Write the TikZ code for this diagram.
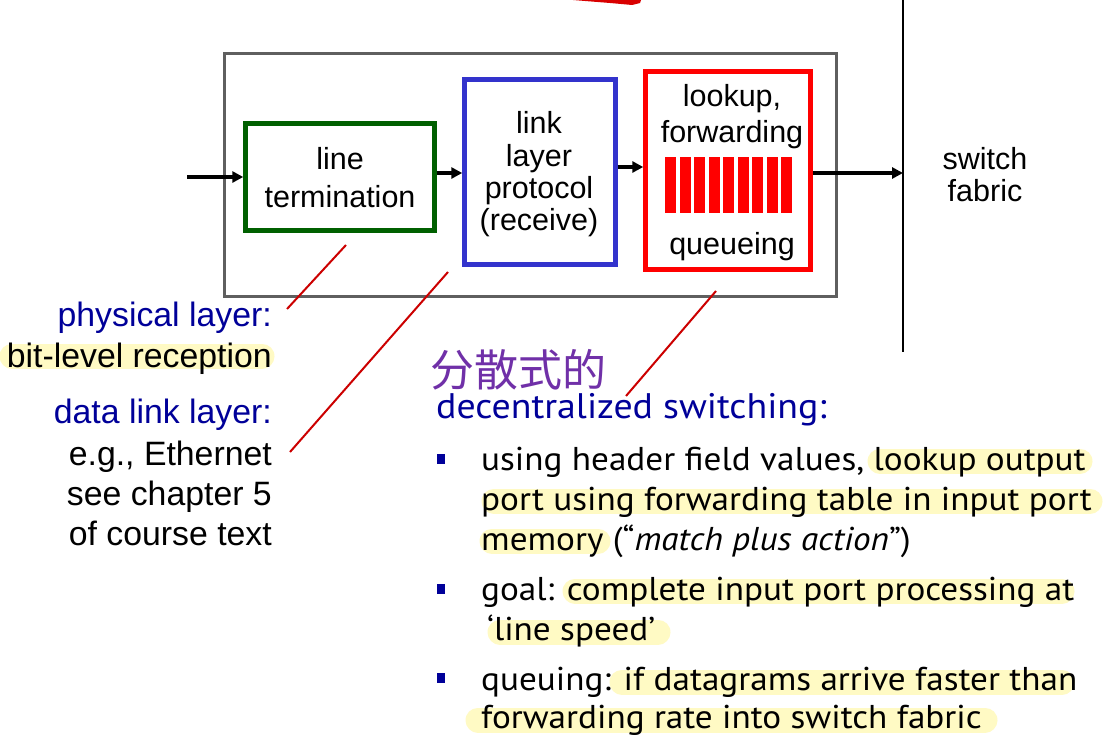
\documentclass[tikz,border=0pt]{standalone}
\usepackage{fontspec}
\setmainfont{Liberation Sans}
\newfontfamily\gill[FakeStretch=1.066]{PT Sans}
\newfontfamily\cjk{Noto Sans CJK SC}
\usetikzlibrary{arrows.meta}
\definecolor{boxgray}{HTML}{5F5F5F}
\definecolor{boxgreen}{HTML}{006000}
\definecolor{boxblue}{HTML}{3333CC}
\definecolor{boxred}{HTML}{FF0000}
\definecolor{navy}{HTML}{000099}
\definecolor{callred}{HTML}{CC0000}
\definecolor{hl}{HTML}{FFFAC4}
\definecolor{pen}{HTML}{7030A8}
\tikzset{
  frame/.style={draw, line width=#1, inner sep=0},
  lbl/.style={anchor=base, inner sep=0, font=\fontsize{30.5}{34}\selectfont},
  side/.style={anchor=base east, inner sep=0, font=\fontsize{33.8}{38}\selectfont},
  bul/.style={anchor=base west, inner sep=0, font=\gill\fontsize{33}{38}\selectfont},
  arr/.style={line width=3.4pt, -{Triangle[length=11pt,width=11pt]}},
  call/.style={callred, line width=2pt},
  hilite/.style={hl, line width=25pt, line cap=round},
  sq/.style={fill=navy, minimum width=8pt, minimum height=10pt, inner sep=0}
}
\begin{document}
\begin{tikzpicture}[x=1pt,y=-1pt]
\useasboundingbox[fill=white] (0,0) rectangle (1115,752);
% highlights
\draw[hilite] (12,356) -- (262,356);
\draw[hilite] (880,461) -- (1080,461);
\draw[hilite] (494,501) -- (1090,501);
\draw[hilite] (492,541) -- (598,541);
\draw[hilite] (575,591) -- (1062,591);
\draw[hilite] (500,632) -- (658,632);
\draw[hilite] (622,682) -- (1062,682);
\draw[hilite] (478,720) -- (985,720);
% red scribble at top
\fill[red!85!black] (573,0) -- (641,0) -- (640,3) -- (632,5) -- (610,3) -- (585,1) -- cycle;
% boxes
\node[frame=3pt, draw=boxgray, minimum width=612pt, minimum height=243pt] (outer) at (530.5,175) {};
\node[frame=4.5pt, draw=boxgreen, minimum width=189pt, minimum height=107pt] (green) at (340,177) {};
\node[frame=4.5pt, draw=boxblue, minimum width=151pt, minimum height=185pt] (blue) at (540,172) {};
\node[frame=4.5pt, draw=boxred, minimum width=165pt, minimum height=198pt] (redb) at (728,170.5) {};
% queue bars
\foreach \i in {0,...,8} {
  \fill[boxred] (665+\i*14.5,157) rectangle ++(11,56);
}
% box labels
\node[lbl] (t1) at (340,169) {line};
\node[lbl] (t2) at (340,207) {termination};
\node[lbl] (t3) at (539,133) {link};
\node[lbl] (t4) at (539,166) {layer};
\node[lbl] (t5) at (539,198) {protocol};
\node[lbl] (t6) at (539,230) {(receive)};
\node[lbl] (t7) at (732,106) {lookup,};
\node[lbl] (t8) at (732,142) {forwarding};
\node[lbl] (t9) at (732,254) {queueing};
\node[lbl] (t10) at (985,169) {switch};
\node[lbl] (t11) at (985,201) {fabric};
% switch fabric line
\coordinate (ftop) at (903,0);
\coordinate (fbot) at (903,352);
\draw[line width=1.2pt] (ftop) -- (fbot);
\coordinate (fab) at (903,173);
\coordinate (inpt) at (187,177);
% arrows
\draw[arr] (inpt) -- (green.west);
\draw[arr] ([yshift=4pt]green.east) -- ([yshift=4pt]green.east -| blue.west);
\draw[arr] ([yshift=5pt]blue.east) -- ([yshift=5pt]blue.east -| redb.west);
\draw[arr] ([yshift=-2.5pt]redb.east) -- ([yshift=-2.5pt]redb.east -| fab);
% side labels
\node[side, text=navy] (s1) at (272,326) {physical layer:};
\node[side] (s2) at (272,367) {bit-level reception};
\node[side, text=navy] (s3) at (272,423) {data link layer:};
\node[side] (s4) at (272,465) {e.g., Ethernet};
\node[side] (s5) at (272,505) {see chapter 5};
\node[side] (s6) at (272,545) {of course text};
% callouts
\coordinate (c1a) at (346,245); \coordinate (c1b) at (287,309);
\coordinate (c2a) at (448,272); \coordinate (c2b) at (290,452);
\coordinate (c3a) at (716,291); \coordinate (c3b) at (626,396);
\draw[call] (c1a) -- (c1b);
\draw[call] (c2a) -- (c2b);
\draw[call] (c3a) -- (c3b);
% handwriting
\node[anchor=west, inner sep=0, text=pen, font=\cjk\fontsize{44}{44}\selectfont] (hw) at (430,370) {分散式的};
% bullets
\node[bul, text=navy, font=\gill\fontsize{35.5}{40}\selectfont] (dec) at (436,418) {decentralized switching:};
\node[sq] (b1) at (441,459) {};
\node[sq] (b2) at (441,589) {};
\node[sq] (b3) at (441,678) {};
\node[bul] (l1) at (481,470) {using header field values, lookup output};
\node[bul] (l2) at (481,510) {port using forwarding table in input port};
\node[bul] (l3) at (481,550) {memory (“\textit{match plus action}”)};
\node[bul] (l4) at (481,600) {goal: complete input port processing at};
\node[bul] (l5) at (487,640) {‘line speed’};
\node[bul] (l6) at (481,690) {queuing: if datagrams arrive faster than};
\node[bul] (l7) at (481,728) {forwarding rate into switch fabric};
\end{tikzpicture}
\end{document}
